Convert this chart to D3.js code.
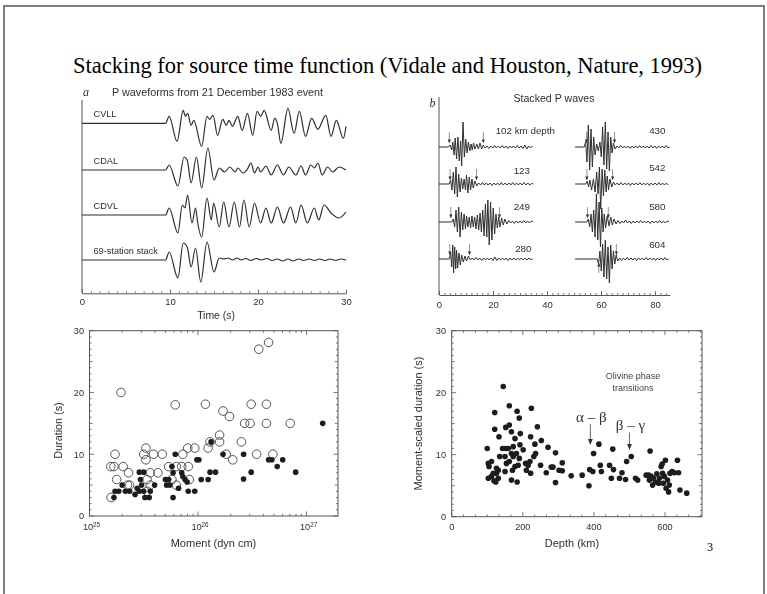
<!DOCTYPE html>
<html>
<head>
<meta charset="utf-8">
<script src="https://cdn.jsdelivr.net/npm/d3@7"></script>
<style>
  html, body { margin: 0; padding: 0; background: #fff; }
  svg { display: block; }
</style>
</head>
<body>
<svg id="fig" width="767" height="594"></svg>
<script>
// ---------------------------------------------------------------
// Data
// ---------------------------------------------------------------
const slideTitle = "Stacking for source time function (Vidale and Houston, Nature, 1993)";
const pageNumber = "3";

// Panel a: P waveforms of one event, [time s, amplitude]
const titleA = "P waveforms from 21 December 1983 event";
const stationLabels = ["CVLL", "CDAL", "CDVL", "69-station stack"];
const timeTicksA = [0, 10, 20, 30];
const timeLabelA = "Time (s)";

const traceCVLL = [[0,0],[9.5,0],[9.9,7],[10.8,-18],[11.5,13],[11.75,7],[12.0,10],[12.4,-2],[12.7,3],[13.6,-23],[14.2,7],[14.5,4],[14.9,8],[15.4,-12],[16.0,4],[16.4,-2],[16.7,3],[17.1,-3],[17.7,7],[18.2,-7],[18.8,10],[19.4,-12],[19.9,12],[20.3,7],[20.7,13],[21.5,-7],[21.9,5],[22.2,0],[22.6,-20],[23.4,15],[24.1,-10],[24.7,12],[25.4,-13],[26.1,5],[26.8,-6],[27.7,8],[28.3,-13],[28.9,3],[29.7,-15],[30,-3]];
const traceCDAL = [[0,0],[9.5,0],[9.9,5],[10.9,-16],[11.6,13],[11.95,10],[12.4,-13],[13.0,13],[13.6,-18],[14.3,22],[15.0,-10],[15.6,2],[16.2,-2],[16.8,3],[17.4,-2],[17.7,2],[18.3,-3],[18.8,1],[19.2,7],[19.6,-3],[20.0,3],[20.3,-2],[20.9,4],[21.5,-5],[22.2,5],[22.9,-5],[23.5,3],[24.3,-5],[24.9,4],[25.4,-5],[26.0,5],[26.4,2],[26.8,7],[27.3,-5],[27.9,3],[28.5,-2],[29.2,3],[30,0]];
const traceCDVL = [[0,0],[9.5,0],[9.9,7],[10.9,-18],[11.4,10],[11.7,7],[12.0,20],[12.5,-8],[12.9,7],[13.15,-8],[13.6,-22],[14.2,17],[14.7,-5],[14.95,12],[15.6,-12],[16.1,13],[16.7,-12],[17.3,13],[17.9,-12],[18.4,15],[19.0,-12],[19.6,12],[20.3,-8],[20.9,7],[21.5,-8],[22.2,8],[22.9,-8],[23.7,8],[24.3,-8],[24.9,10],[25.6,-8],[26.4,7],[26.9,-5],[27.5,10],[28.3,2],[29.2,-3],[30,3]];
const traceStack = [[0,0],[9.5,0],[9.9,8],[10.9,-18],[11.5,17],[11.95,13],[12.4,-7],[12.9,12],[13.5,-22],[14.2,18],[15.0,-12],[15.6,2],[16.1,1],[16.6,2],[17.1,0],[17.6,2],[18.1,0],[18.6,1.5],[19.2,-0.5],[19.8,1.5],[20.4,0],[21.0,1.5],[21.6,-0.5],[22.2,1],[22.8,-1],[23.4,1],[24.0,-1],[24.6,1],[25.2,-0.5],[25.8,1],[26.4,-0.5],[27,1],[27.6,-0.5],[28.2,1],[28.8,-0.5],[29.4,1],[30,0]];

// Panel b: stacked P waves by depth; pulse = [time s, amplitude], coda sampled every 0.7 s
const titleB = "Stacked P waves";
const depthLabels = ["102 km depth", "123", "249", "280", "430", "542", "580", "604"];
const timeTicksB = [0, 20, 40, 60, 80];

const pulse102 = [[0,0],[3.5,0],[4.1,2],[4.7,-3],[5.1,5],[5.6,-8],[6.0,9],[6.5,-12],[7.0,10],[7.5,-14],[8.0,6],[8.4,-19],[8.9,25],[9.4,-10],[9.9,8],[10.4,-6],[10.9,5],[11.4,-4],[11.9,3],[12.3,-3],[12.8,4],[13.3,-2],[14.0,3],[14.6,-2],[15.2,4],[15.8,-2],[16.4,2]];
const coda102 = [-1,1,-1.5,1,-1,1.5,-1,1,-1,1.5,-1,1,-1.5,1,-1,1,-1,1.5,-1,1,-1.5,2,-2,1,-1,1,0];
const pulse123 = [[0,0],[3.8,0],[4.3,4],[4.8,-6],[5.3,12],[5.8,-10],[6.3,17],[6.8,-13],[7.3,10],[7.8,-8],[8.3,6],[8.8,-5],[9.3,5],[9.8,-6],[10.2,9],[10.7,-9],[11.2,7],[11.7,-6],[12.2,5],[12.7,-4],[13.3,3],[14.0,-2]];
const coda123 = [1,-1,1.5,-1,1,-1,1,-1.5,1,-1,1,-1,1.5,-1,1,-1,1,-1,1.5,-1,1,-1,1,-1,1.5,-1,1,-1,0.5,0];
const pulse249 = [[0,0],[4.7,0],[5.3,3],[5.8,-5],[6.3,12],[6.8,-10],[7.3,15],[7.8,-15],[8.3,10],[8.8,-8],[9.3,8],[9.8,-7],[10.2,6],[10.7,-5],[11.2,5],[11.7,-6],[12.2,6],[12.7,-5],[13.2,5],[13.7,-7],[14.2,7],[14.7,-8],[15.2,9],[15.7,-10],[16.2,12],[16.7,-14],[17.2,18],[17.7,-15],[18.1,22],[18.6,-23],[19.1,20],[19.6,-18],[20.1,14],[20.6,-12],[21.1,8],[21.6,-6],[22.1,5],[22.6,-5],[23.2,4],[23.8,-3],[24.4,3],[25.1,-2]];
const coda249 = [1.5,-1,1,-1.5,1,-1,1,-1,1.5,-1,1,-1,1,0];
const pulse280 = [[0,0],[3.8,0],[4.3,6],[4.7,-8],[5.1,14],[5.4,-14],[5.8,12],[6.2,-10],[6.5,9],[6.9,-9],[7.4,6],[7.9,-6],[8.4,4],[9.0,-3],[9.6,3],[10.2,-2],[10.9,3]];
const coda280 = [-1,1,-1,1.5,-1,1,-1.5,1,-1,1,-1,1,-1.5,2,-1.5,1,-1,1,-1,1,-1.5,1,-1,1,-1,1,-1,1,-1,1,-1,1,-0.5,0];
const pulse430 = [[50.4,0],[53.8,0],[54.3,5],[54.8,-15],[55.3,22],[55.8,-23],[56.3,18],[56.8,-20],[57.3,10],[57.8,-8],[58.4,3],[59.0,-4],[59.6,5],[60.1,-10],[60.6,20],[61.1,-18],[61.6,25],[62.1,-22],[62.6,15],[63.1,-24],[63.6,10],[64.1,-6],[64.6,4],[65.2,-2]];
const coda430 = [1,-1,1.5,-1,1,-1,1,-1.5,1,-1,1,-1,1.5,-1,1,-1,1,-1,1.5,-1,1,-1.5,1,-1,1,-1,1.5,-1,0];
const pulse542 = [[50.4,0],[54.4,0],[54.9,3],[55.4,-3],[55.9,4],[56.5,-6],[57.2,5],[57.8,-8],[58.4,12],[58.9,-10],[59.4,17],[59.9,-25],[60.4,15],[60.9,-12],[61.4,14],[61.9,-8],[62.3,8],[62.8,-6],[63.3,5],[64.0,-3],[64.6,2]];
const coda542 = [-1,1,-1,1.5,-1,1,-1,1,-1.5,1,-1,1,-1,1.5,-1,1,-1,1,-1.5,1,-1,1,-1,1.5,-1,1,-1,1,-1,0];
const pulse580 = [[50.4,0],[54.7,0],[55.3,3],[55.8,-5],[56.3,8],[56.8,-10],[57.3,12],[57.8,-15],[58.3,28],[58.8,-18],[59.3,20],[59.8,-25],[60.3,14],[60.8,-10],[61.2,8],[61.7,-6],[62.3,6],[63.0,-4],[63.6,5],[64.2,-3],[64.8,3],[65.6,-2]];
const coda580 = [1.5,-1.5,1,-1,2,-1,1,-1.5,1,-1,1,-1,1.5,-1,1,-1,1,-1.5,1,-1,1,-1,1.5,-1,1,-1,1,0];
const pulse604 = [[50.4,0],[58.6,0],[59.1,-5],[59.6,8],[60.1,-12],[60.6,15],[61.1,-18],[61.6,19],[62.1,-20],[62.6,12],[63.1,-24],[63.6,14],[64.1,-10],[64.6,8],[65.1,-5],[65.6,4],[66.2,-2]];
const coda604 = [1,-1.5,1,-1,1.5,-1,1,-1,1,-1.5,1,-1,1,-1,1.5,-1,1,-1,1,-1.5,1,-1,1,-1,1.5,-1,0];
// picked onset and end of each source pulse (s)
const onsetTimes = [3.8, 4.1, 4.4, 4.0, 54.6, 54.8, 55.0, 59.2];
const endTimes = [16.4, 13.9, 22.4, 11.3, 65.0, 64.3, 62.7, 65.7];

// Panel c: duration vs. seismic moment [dyn cm, s]
const momentTicks = [1e25, 1e26, 1e27];
const durationTicks = [0, 10, 20, 30];
const openEvents = [[1.72e25,10],[1.57e25,8],[1.68e25,8],[1.78e25,5.9],[2.04e25,8],[2.29e25,7],[2.24e25,5],[2.34e25,5],[1.58e25,3],[3.31e25,11],[3.16e25,10],[3.31e25,9.1],[3.89e25,10],[4.68e25,10],[3.63e25,7],[4.27e25,7],[3.39e25,5.9],[3.63e25,5],[3.39e25,4],[5.37e25,8],[5.75e25,5.9],[6.31e25,8],[7.08e25,8],[8.13e25,8],[7.24e25,10],[8.04e25,11],[9.33e25,11],[8.32e25,5.9],[6.31e25,5],[1.24e26,11],[1.29e26,12],[1.58e26,13.1],[1.58e26,12],[1.82e26,10],[2.09e26,9.1],[2.51e26,12],[3.47e26,10],[4.90e26,10],[2.69e26,15],[3.02e26,15],[4.27e26,15],[7.08e26,15],[3.63e26,27],[4.47e26,28.1],[1.17e26,18.1],[1.70e26,17],[1.95e26,16.1],[3.09e26,18.1],[4.27e26,18.1],[1.95e25,20],[6.17e25,18]];
const solidEvents = [[1.68e25,3],[1.72e25,4],[1.86e25,4],[2.0e25,5],[2.14e25,4],[2.34e25,4],[2.63e25,3.5],[2.75e25,4.5],[2.88e25,4],[2.88e25,7.1],[3.16e25,7.1],[2.95e25,5.9],[3.02e25,5],[3.16e25,4],[3.24e25,3],[3.55e25,3],[3.63e25,4],[3.98e25,5],[5.01e25,5.9],[5.37e25,5.9],[5.13e25,5],[5.5e25,5],[5.75e25,8],[6.17e25,10],[5.89e25,7],[5.89e25,3],[6.61e25,4.5],[7.08e25,7],[7.24e25,6.4],[7.59e25,5.9],[7.94e25,5.5],[8.13e25,4],[9.33e25,4],[9.77e25,9.1],[1.02e26,9.1],[1.07e26,5.9],[1.24e26,5.9],[1.29e26,7.1],[1.45e26,7.1],[1.32e26,12],[1.70e26,10],[2.63e26,10],[2.63e26,6],[3.09e26,7.1],[4.47e26,9.1],[4.79e26,9.1],[5.37e26,8],[6.03e26,9.1],[7.94e26,7.1],[1.41e27,15]];

// Panel d: moment-scaled duration vs. depth [km, s]
const depthTicks = [0, 200, 400, 600];
const scaledTicks = [0, 10, 20, 30];
const depthEvents = [[100,11],[103,8.6],[105,8.1],[112,8.9],[103,6.2],[112,6.5],[117,7],[119,5.8],[124,5.6],[126,7],[126,7.8],[131,6.2],[131,7.5],[121,16.8],[121,14.1],[133,12.9],[135,9.7],[145,21],[143,11],[152,11],[150,9.7],[150,7.3],[154,8.6],[152,14.4],[162,17.9],[162,14.8],[159,11],[162,8.9],[168,10.2],[168,13.7],[173,9.7],[173,11.3],[171,7.5],[168,5.9],[178,8.1],[178,12.6],[182,10.2],[184,17],[190,15.9],[184,5.6],[193,13.4],[192,11.6],[190,9.4],[187,8.3],[201,10.8],[208,8.6],[210,7.5],[215,8.3],[220,8.9],[222,12.9],[224,17.5],[222,7.0],[231,9.7],[234,11.7],[236,10.2],[241,14.5],[250,8.3],[252,12.3],[266,7.1],[271,11.2],[280,8.0],[285,8.0],[292,10.3],[292,5.5],[302,7.5],[311,8.7],[311,7.4],[336,6.6],[367,6.7],[386,5.0],[388,7.6],[397,7.3],[399,10.2],[414,11.7],[418,8.3],[421,7.3],[444,8.3],[449,6.2],[453,10.9],[455,7.6],[472,6.2],[479,7.1],[489,6.0],[492,8.9],[505,9.7],[517,6.2],[523,5.9],[558,10.6],[547,6.7],[554,6.7],[556,5.9],[561,6.5],[565,5.1],[567,6.2],[573,5.6],[577,6.9],[582,5.4],[584,6.2],[589,8.1],[592,8.5],[593,7.0],[595,5.4],[598,6.5],[601,9.1],[603,4.6],[607,5.9],[610,4.0],[612,5.1],[614,7.0],[620,7.3],[626,7.1],[635,9.1],[638,7.1],[642,4.3],[661,3.8]];
const phaseLabels = ["α – β", "β – γ"];
const phaseDepths = [390, 500];

// ---------------------------------------------------------------
// Drawing
// ---------------------------------------------------------------
const svg = d3.select("#fig");
const INK = "#2f2f2f";
const AXIS = "#555";
const SANS = "'Liberation Sans', Arial, Helvetica, sans-serif";
const SERIF = "'Liberation Serif', 'Times New Roman', serif";

// the scanned figure panels are slightly soft
svg.append("defs").append("filter").attr("id", "soft")
  .attr("x", "-5%").attr("y", "-5%").attr("width", "110%").attr("height", "110%")
  .append("feGaussianBlur").attr("stdDeviation", 0.35);

// slide background and border
svg.append("rect")
  .attr("x", 4).attr("y", 6).attr("width", 760).attr("height", 620)
  .attr("fill", "#fff").attr("stroke", "#7d7d7d").attr("stroke-width", 2);

svg.append("text")
  .attr("x", 73).attr("y", 72.5)
  .attr("font-family", SERIF).attr("font-size", 22.5).attr("fill", "#000")
  .text(slideTitle);

svg.append("text")
  .attr("x", 707).attr("y", 551)
  .attr("font-family", SERIF).attr("font-size", 12).attr("fill", "#000")
  .text(pageNumber);

function styleAxis(g, size) {
  g.select(".domain").attr("stroke", AXIS).attr("stroke-width", 1);
  g.selectAll(".tick line").attr("stroke", AXIS).attr("stroke-width", 0.8);
  g.selectAll(".tick text").attr("font-family", SANS).attr("font-size", size).attr("fill", INK);
}

// ---------------- Panel a ----------------
const gA = svg.append("g").attr("filter", "url(#soft)");
const xA = d3.scaleLinear().domain([0, 30]).range([82, 346]);
const ampA = d3.scaleLinear().domain([-25, 25]).range([25, -25]);
const baseA = [123.3, 170, 215, 260];
const yAxisA = 293.3;

gA.append("text").attr("x", 83).attr("y", 95.5)
  .attr("font-family", SERIF).attr("font-style", "italic").attr("font-size", 12).attr("fill", INK).text("a");
gA.append("text").attr("x", 112).attr("y", 96)
  .attr("font-family", SANS).attr("font-size", 10.8).attr("fill", INK).text(titleA);

gA.append("line").attr("x1", xA(0)).attr("x2", xA(0)).attr("y1", 100).attr("y2", yAxisA)
  .attr("stroke", AXIS).attr("stroke-width", 1);

[traceCVLL, traceCDAL, traceCDVL, traceStack].forEach((tr, i) => {
  const line = d3.line()
    .x(d => xA(d[0]))
    .y(d => baseA[i] + ampA(d[1]))
    .curve(d3.curveMonotoneX);
  gA.append("path").attr("d", line(tr))
    .attr("fill", "none").attr("stroke", INK).attr("stroke-width", 1.2);
  gA.append("text").attr("x", 93.5).attr("y", baseA[i] - 6)
    .attr("font-family", SANS).attr("font-size", 9.2).attr("fill", INK)
    .text(stationLabels[i]);
});

const axA1 = gA.append("g").attr("transform", `translate(0,${yAxisA})`)
  .call(d3.axisBottom(xA).tickValues(d3.range(0, 31, 1)).tickSize(-2).tickSizeOuter(0).tickFormat(""));
styleAxis(axA1, 9.5);
const axA2 = gA.append("g").attr("transform", `translate(0,${yAxisA})`)
  .call(d3.axisBottom(xA).tickValues(timeTicksA).tickSize(-4).tickSizeOuter(0).tickPadding(5).tickFormat(d3.format("d")));
styleAxis(axA2, 9.5);
axA2.select(".domain").remove();

gA.append("text").attr("x", 216).attr("y", 318.5).attr("text-anchor", "middle")
  .attr("font-family", SANS).attr("font-size", 10.4).attr("fill", INK).text(timeLabelA);

// ---------------- Panel b ----------------
const gB = svg.append("g").attr("filter", "url(#soft)");
const xB = d3.scaleLinear().domain([0, 85.5]).range([439, 439 + 85.5 * 2.7]);
const ampB = d3.scaleLinear().domain([-25, 25]).range([25, -25]);
const rowBase = [147, 184, 222, 259];
const yAxisB = 295;
const columnEnd = [35, 85.5];

gB.append("text").attr("x", 429.5).attr("y", 106.5)
  .attr("font-family", SERIF).attr("font-style", "italic").attr("font-size", 12).attr("fill", INK).text("b");
gB.append("text").attr("x", 554).attr("y", 102).attr("text-anchor", "middle")
  .attr("font-family", SANS).attr("font-size", 10.6).attr("fill", INK).text(titleB);

gB.append("line").attr("x1", xB(0)).attr("x2", xB(0)).attr("y1", 97).attr("y2", yAxisB)
  .attr("stroke", AXIS).attr("stroke-width", 1);

const pulsesB = [pulse102, pulse123, pulse249, pulse280, pulse430, pulse542, pulse580, pulse604];
const codasB = [coda102, coda123, coda249, coda280, coda430, coda542, coda580, coda604];
const labelEnd = [555, 530, 530, 531.5, 665.5, 665.5, 665.5, 665.5];
const labelBase = [133.5, 173.5, 210, 251.5, 133.5, 170.7, 210, 247.5];

pulsesB.forEach((pulse, i) => {
  const col = i < 4 ? 0 : 1;
  const base = rowBase[i % 4];
  const last = pulse[pulse.length - 1][0];
  const coda = codasB[i].map((a, k) => [last + 0.7 * (k + 1), a])
    .filter(d => d[0] <= columnEnd[col]);
  const pts = pulse.concat(coda);
  const line = d3.line().x(d => xB(d[0])).y(d => base + ampB(d[1]));
  gB.append("path").attr("d", line(pts))
    .attr("fill", "none").attr("stroke", INK).attr("stroke-width", 1)
    .attr("stroke-linejoin", "round");

  gB.append("text").attr("x", labelEnd[i]).attr("y", labelBase[i]).attr("text-anchor", "end")
    .attr("font-family", SANS).attr("font-size", 9.8).attr("fill", INK).text(depthLabels[i]);

  // picks: small arrows at pulse onset and end
  [onsetTimes[i], endTimes[i]].forEach((t, k) => {
    const up = (i === 7 && k === 0);
    const ax = xB(t);
    const tip = up ? base + 4 : base - 4;
    const tail = up ? base + 14 : base - 15;
    gB.append("line").attr("x1", ax).attr("x2", ax).attr("y1", tail).attr("y2", tip)
      .attr("stroke", "#666").attr("stroke-width", 0.7);
    const h = up ? 3.5 : -3.5;
    gB.append("path")
      .attr("d", `M${ax},${tip} L${ax - 1.6},${tip + h} L${ax + 1.6},${tip + h} Z`)
      .attr("fill", INK);
  });
});

const axB1 = gB.append("g").attr("transform", `translate(0,${yAxisB})`)
  .call(d3.axisBottom(xB).tickValues(d3.range(0, 86, 2)).tickSize(-2).tickSizeOuter(0).tickFormat(""));
styleAxis(axB1, 9.5);
const axB2 = gB.append("g").attr("transform", `translate(0,${yAxisB})`)
  .call(d3.axisBottom(xB).tickValues(timeTicksB).tickSize(-4).tickSizeOuter(0).tickPadding(6).tickFormat(d3.format("d")));
styleAxis(axB2, 9.5);
axB2.select(".domain").remove();

// ---------------- framed scatter panels ----------------
function drawFrame(g, x, y, xTicks, yTicks) {
  const [x0, x1] = x.range();
  const [y0, y1] = y.range();
  g.append("rect").attr("x", x0).attr("y", y1).attr("width", x1 - x0).attr("height", y0 - y1)
    .attr("fill", "none").attr("stroke", AXIS).attr("stroke-width", 1);
  xTicks.forEach(([v, len]) => {
    const px = x(v);
    g.append("line").attr("x1", px).attr("x2", px).attr("y1", y0).attr("y2", y0 - len)
      .attr("stroke", AXIS).attr("stroke-width", 0.8);
    g.append("line").attr("x1", px).attr("x2", px).attr("y1", y1).attr("y2", y1 + len)
      .attr("stroke", AXIS).attr("stroke-width", 0.8);
  });
  yTicks.forEach(([v, len]) => {
    const py = y(v);
    g.append("line").attr("x1", x0).attr("x2", x0 + len).attr("y1", py).attr("y2", py)
      .attr("stroke", AXIS).attr("stroke-width", 0.8);
    g.append("line").attr("x1", x1).attr("x2", x1 - len).attr("y1", py).attr("y2", py)
      .attr("stroke", AXIS).attr("stroke-width", 0.8);
  });
}
const durTickMarks = d3.range(0, 31, 1).map(v => [v, v % 10 === 0 ? 4.5 : (v % 5 === 0 ? 3.2 : 2)]);

// ---------------- Panel c ----------------
const gC = svg.append("g").attr("filter", "url(#soft)");
const xC = d3.scaleLog().domain([1e25, Math.pow(10, 27.29)]).range([89.5, 338]);
const yC = d3.scaleLinear().domain([0, 30]).range([516, 330.7]);
const logTickMarks = [];
[1e25, 1e26, 1e27].forEach(dec => {
  for (let m = 1; m <= 9; m++) {
    const v = dec * m;
    if (v <= xC.domain()[1]) logTickMarks.push([v, m === 1 ? 4.5 : 2.2]);
  }
});
drawFrame(gC, xC, yC, logTickMarks, durTickMarks);

gC.selectAll("circle.open").data(openEvents).join("circle")
  .attr("class", "open")
  .attr("cx", d => xC(d[0])).attr("cy", d => yC(d[1])).attr("r", 4.3)
  .attr("fill", "none").attr("stroke", "#444").attr("stroke-width", 0.9);
gC.selectAll("circle.solid").data(solidEvents).join("circle")
  .attr("class", "solid")
  .attr("cx", d => xC(d[0])).attr("cy", d => yC(d[1])).attr("r", 2.8)
  .attr("fill", "#1c1c1c");

durationTicks.forEach(v => {
  gC.append("text").attr("x", 84).attr("y", yC(v) + 3.3).attr("text-anchor", "end")
    .attr("font-family", SANS).attr("font-size", 9.2).attr("fill", INK).text(v);
});
momentTicks.forEach(v => {
  const t = gC.append("text").attr("x", xC(v) + 2).attr("y", 530).attr("text-anchor", "middle")
    .attr("font-family", SANS).attr("font-size", 9.2).attr("fill", INK);
  t.append("tspan").text("10");
  t.append("tspan").attr("dy", -3.5).attr("font-size", 6.3).text(Math.round(Math.log10(v)));
});
gC.append("text").attr("x", 213.5).attr("y", 547).attr("text-anchor", "middle")
  .attr("font-family", SANS).attr("font-size", 11).attr("fill", INK).text("Moment (dyn cm)");
gC.append("text").attr("transform", "translate(62,430.5) rotate(-90)").attr("text-anchor", "middle")
  .attr("font-family", SANS).attr("font-size", 10.8).attr("fill", INK).text("Duration (s)");

// ---------------- Panel d ----------------
const gD = svg.append("g").attr("filter", "url(#soft)");
const xD = d3.scaleLinear().domain([0, 704]).range([451.7, 702]);
const yD = d3.scaleLinear().domain([0, 30]).range([516.7, 330.7]);
const depthTickMarks = d3.range(0, 701, 200 / 6).map(v => [v, Math.abs(v % 200) < 0.01 || Math.abs(v % 200 - 200) < 0.01 ? 4.5 : 2.2]);
drawFrame(gD, xD, yD, depthTickMarks, durTickMarks);

gD.selectAll("circle").data(depthEvents).join("circle")
  .attr("cx", d => xD(d[0])).attr("cy", d => yD(d[1])).attr("r", 2.8)
  .attr("fill", "#1c1c1c");

scaledTicks.forEach(v => {
  gD.append("text").attr("x", 446).attr("y", yD(v) + 3.3).attr("text-anchor", "end")
    .attr("font-family", SANS).attr("font-size", 9.2).attr("fill", INK).text(v);
});
depthTicks.forEach(v => {
  gD.append("text").attr("x", xD(v)).attr("y", 530).attr("text-anchor", "middle")
    .attr("font-family", SANS).attr("font-size", 9.2).attr("fill", INK).text(v);
});
gD.append("text").attr("x", 572).attr("y", 547).attr("text-anchor", "middle")
  .attr("font-family", SANS).attr("font-size", 11).attr("fill", INK).text("Depth (km)");
gD.append("text").attr("transform", "translate(422,423.5) rotate(-90)").attr("text-anchor", "middle")
  .attr("font-family", SANS).attr("font-size", 11).attr("fill", INK).text("Moment-scaled duration (s)");

gD.append("text").attr("x", 633).attr("y", 378.5).attr("text-anchor", "middle")
  .attr("font-family", SANS).attr("font-size", 9).attr("fill", "#444").text("Olivine phase");
gD.append("text").attr("x", 633).attr("y", 390.5).attr("text-anchor", "middle")
  .attr("font-family", SANS).attr("font-size", 9).attr("fill", "#444").text("transitions");

const phaseTop = [423, 431.5];
const phaseTip = [445, 450];
phaseDepths.forEach((dep, i) => {
  const ax = xD(dep);
  gD.append("text").attr("x", ax + 1).attr("y", phaseTop[i] - 1.5).attr("text-anchor", "middle")
    .attr("font-family", SERIF).attr("font-size", 15).attr("fill", "#333").text(phaseLabels[i]);
  gD.append("line").attr("x1", ax).attr("x2", ax).attr("y1", phaseTop[i] + 1).attr("y2", phaseTip[i] - 5)
    .attr("stroke", "#444").attr("stroke-width", 0.8);
  gD.append("path")
    .attr("d", `M${ax},${phaseTip[i]} L${ax - 2.4},${phaseTip[i] - 6} L${ax + 2.4},${phaseTip[i] - 6} Z`)
    .attr("fill", "#333");
});
</script>
</body>
</html>
